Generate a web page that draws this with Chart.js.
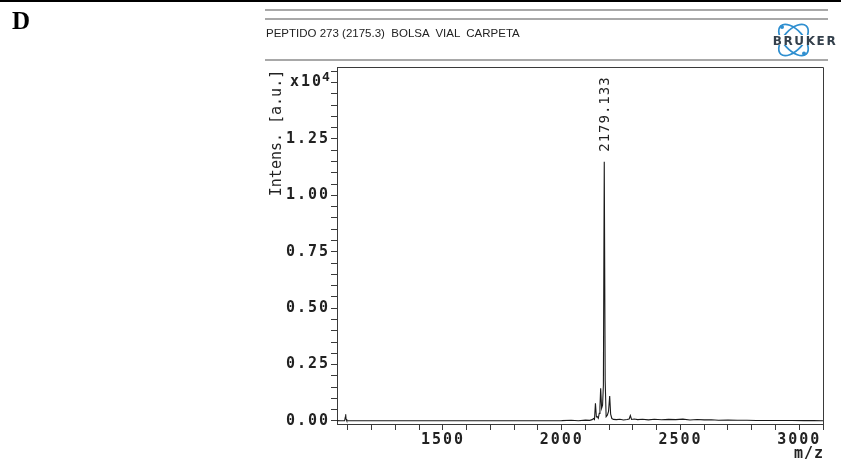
<!DOCTYPE html>
<html>
<head>
<meta charset="utf-8">
<script src="https://cdn.jsdelivr.net/npm/chart.js@4/dist/chart.umd.min.js"></script>
<style>
  html, body { margin: 0; padding: 0; background: #fff; }
  #wrap { position: relative; width: 841px; height: 468px; overflow: hidden; background: #fff; }
  #c { position: absolute; left: 0; top: 0; }
  .topbar { position: absolute; left: 0; top: 0; width: 841px; height: 2px; background: #000; }
  .hline { position: absolute; left: 265px; width: 563px; height: 2px; background: #a8a8a8; }
  #letter { position: absolute; left: 12px; top: 7px; font: bold 25px "Liberation Serif", "DejaVu Serif", serif; color: #000; }
  #title { position: absolute; left: 266px; top: 27px; font: 11.5px "Liberation Sans Narrow", "Liberation Sans", Arial, sans-serif; color: #222; white-space: pre; }
  #logo { position: absolute; left: 768px; top: 20px; }
</style>
</head>
<body>
<div id="wrap">
  <canvas id="c" width="841" height="468"></canvas>
  <div class="topbar"></div>
  <div class="hline" style="top:9px"></div>
  <div class="hline" style="top:18px"></div>
  <div class="hline" style="top:59px"></div>
  <div id="letter">D</div>
  <div id="title">PEPTIDO 273 (2175.3)  BOLSA  VIAL  CARPETA</div>
  <svg id="logo" width="73" height="40" viewBox="0 0 73 40">
    <g fill="none" stroke="#2f8fd0" stroke-width="1.7">
      <ellipse cx="25.5" cy="20" rx="19" ry="10" transform="rotate(48 25.5 20)"/>
      <ellipse cx="25.5" cy="20" rx="19" ry="10" transform="rotate(-48 25.5 20)"/>
    </g>
    <g fill="#2f8fd0">
      <circle cx="14" cy="7" r="2"/>
      <circle cx="36" cy="33.5" r="2"/>
    </g>
    <rect x="3" y="15" width="69" height="10" fill="#fff"/>
    <text x="37" y="24.5" text-anchor="middle" font-family="'DejaVu Sans', 'Liberation Sans', sans-serif" font-weight="bold" font-size="12" fill="#34404c" letter-spacing="1.6">BRUKER</text>
  </svg>
</div>
<script>
// ---- data (m/z vs intensity in a.u.) ----
const mzValues = [1054, 1070, 1086, 1089, 1090.6, 1092, 1095, 1150, 1300, 1450, 1600, 1750, 1900, 2000, 2040, 2070, 2100, 2118, 2128, 2134, 2138, 2142, 2146, 2150, 2154, 2158, 2161, 2164, 2168, 2172, 2175.5, 2179.133, 2183, 2187, 2192, 2197, 2202, 2206, 2211, 2218, 2230, 2245, 2260, 2275, 2284, 2289, 2294, 2305, 2320, 2340, 2365, 2390, 2420, 2450, 2480, 2510, 2540, 2570, 2600, 2630, 2660, 2700, 2740, 2780, 2820, 2870, 2920, 2970, 3020, 3060, 3100];
const intensityValues = [15, 10, 12, 180, 300, 90, 14, 10, 12, 10, 11, 12, 14, 18, 35, 12, 40, 30, 60, 110, 70, 790, 180, 190, 120, 340, 620, 1450, 560, 700, 1600, 11490, 1800, 190, 260, 420, 1110, 300, 110, 70, 60, 80, 45, 70, 90, 240, 70, 90, 60, 75, 50, 80, 55, 70, 60, 85, 45, 65, 50, 55, 35, 40, 30, 35, 20, 25, 20, 22, 18, 15, 12];

const peakLabel = "2179.133";
const peakLabelMz = 2179.133;
const peakLabelIntensity = 11490;

const xTickValues = [1100, 1200, 1300, 1400, 1500, 1600, 1700, 1800, 1900, 2000, 2100, 2200, 2300, 2400, 2500, 2600, 2700, 2800, 2900, 3000, 3100];
const xLabelValues = [1500, 2000, 2500, 3000];
const yTickValues = [0, 500, 1000, 1500, 2000, 2500, 3000, 3500, 4000, 4500, 5000, 5500, 6000, 6500, 7000, 7500, 8000, 8500, 9000, 9500, 10000, 10500, 11000, 11500, 12000, 12500, 13000, 13500, 14000, 14500, 15000, 15500];
const yLabelValues = [0, 2500, 5000, 7500, 10000, 12500];
const yExponentTick = 15000;
const yLabelScale = 10000;

const points = mzValues.map((m, i) => ({ x: m, y: intensityValues[i] }));

const MONO = '"DejaVu Sans Mono", "Liberation Mono", monospace';
const AXIS_COLOR = '#3a3a3a';

const frameAndText = {
  id: 'frameAndText',
  beforeDraw(chart) {
    chart.ctx.letterSpacing = '2px';
  },
  afterDraw(chart) {
    const ctx = chart.ctx;
    const a = chart.chartArea;
    const xs = chart.scales.x, ys = chart.scales.y;
    ctx.save();
    ctx.letterSpacing = '0px';
    // frame top & right
    ctx.strokeStyle = AXIS_COLOR;
    ctx.lineWidth = 1;
    ctx.beginPath();
    ctx.moveTo(a.left, a.top + 0.5);
    ctx.lineTo(a.right + 0.5, a.top + 0.5);
    ctx.lineTo(a.right + 0.5, a.bottom);
    ctx.stroke();

    // peak label
    const px = xs.getPixelForValue(peakLabelMz);
    const py = ys.getPixelForValue(peakLabelIntensity);
    ctx.fillStyle = '#222';
    ctx.font = '14px ' + MONO;
    ctx.letterSpacing = '1px';
    ctx.translate(px, py - 10);
    ctx.rotate(-Math.PI / 2);
    ctx.textAlign = 'left';
    ctx.textBaseline = 'middle';
    ctx.fillText(peakLabel, 0, 1);
    ctx.setTransform(1, 0, 0, 1, 0, 0);

    // exponent label x10^4
    const ey = ys.getPixelForValue(yExponentTick);
    ctx.font = 'bold 15px ' + MONO;
    ctx.letterSpacing = '2px';
    ctx.textAlign = 'right';
    ctx.textBaseline = 'middle';
    ctx.fillText('x10', a.left - 14, ey);
    ctx.font = 'bold 13px ' + MONO;
    ctx.letterSpacing = '0px';
    ctx.textAlign = 'left';
    ctx.fillText('4', a.left - 15, ey - 5);

    // y axis title
    ctx.font = '15px ' + MONO;
    ctx.letterSpacing = '0px';
    ctx.translate(277, 133);
    ctx.rotate(-Math.PI / 2);
    ctx.textAlign = 'center';
    ctx.textBaseline = 'middle';
    ctx.fillText('Intens. [a.u.]', 0, 0);
    ctx.setTransform(1, 0, 0, 1, 0, 0);

    // x axis title
    ctx.font = 'bold 15px ' + MONO;
    ctx.letterSpacing = '1px';
    ctx.textAlign = 'right';
    ctx.textBaseline = 'middle';
    ctx.fillText('m/z', a.right + 1, 454);
    ctx.restore();
  }
};

new Chart(document.getElementById('c'), {
  type: 'line',
  data: {
    datasets: [{
      data: points,
      borderColor: '#1a1a1a',
      borderWidth: 1.1,
      pointRadius: 0,
      fill: false,
      tension: 0
    }]
  },
  options: {
    responsive: false,
    animation: false,
    devicePixelRatio: 1,
    layout: { padding: { left: 0, right: 18, top: 67, bottom: 0 } },
    plugins: { legend: { display: false }, tooltip: { enabled: false } },
    scales: {
      x: {
        type: 'linear',
        min: 1054,
        max: 3100,
        afterBuildTicks: (s) => { s.ticks = xTickValues.map(v => ({ value: v })); },
        afterFit: (s) => { s.height = 44; },
        ticks: {
          autoSkip: false,
          maxRotation: 0,
          padding: 1,
          color: '#222',
          font: { family: MONO, size: 15, weight: 'bold' },
          callback: (v) => xLabelValues.includes(v) ? String(v) : ''
        },
        grid: { drawOnChartArea: false, drawTicks: true, tickLength: 6, tickColor: AXIS_COLOR, tickWidth: 1 },
        border: { display: true, color: AXIS_COLOR, width: 1 }
      },
      y: {
        type: 'linear',
        min: -133,
        max: 15691,
        afterBuildTicks: (s) => { s.ticks = yTickValues.map(v => ({ value: v })); },
        afterFit: (s) => { s.width = 337; },
        ticks: {
          autoSkip: false,
          padding: 1,
          color: '#222',
          font: { family: MONO, size: 15, weight: 'bold' },
          callback: (v) => yLabelValues.includes(v) ? (v / yLabelScale).toFixed(2) : ''
        },
        grid: { drawOnChartArea: false, drawTicks: true, tickLength: 6, tickColor: AXIS_COLOR, tickWidth: 1 },
        border: { display: true, color: AXIS_COLOR, width: 1 }
      }
    }
  },
  plugins: [frameAndText]
});
</script>
</body>
</html>
